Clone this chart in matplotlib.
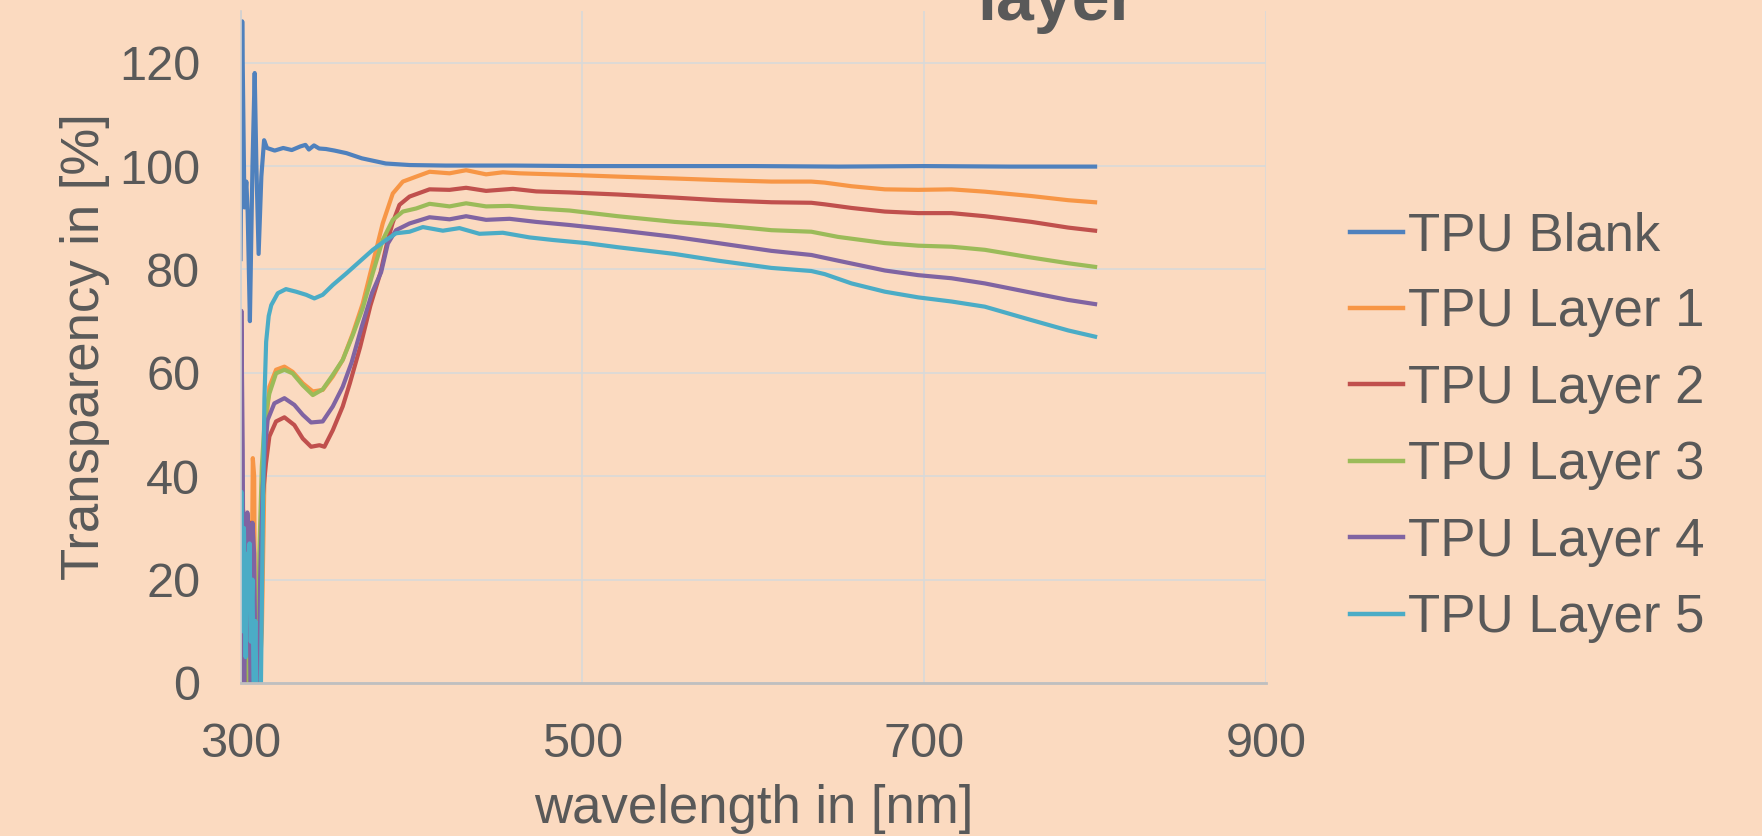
import matplotlib
matplotlib.use('Agg')
import matplotlib.pyplot as plt

plt.rcParams['font.family'] = ['Liberation Sans', 'DejaVu Sans']

BG = '#FBDAC0'
TXT = '#595959'

series_names = ['TPU Blank', 'TPU Layer 1', 'TPU Layer 2', 'TPU Layer 3', 'TPU Layer 4', 'TPU Layer 5']
colors = ['#4F81BD', '#F79646', '#C0504D', '#9BBB59', '#8064A2', '#4BACC6']

x_ticks = [300, 500, 700, 900]
y_ticks = [0, 20, 40, 60, 80, 100, 120]

# values (wavelength nm, transparency %)
wl_blank = [300, 301, 302.3, 303.4, 304.2, 305.5, 307, 308.3, 309.3, 310.6, 312.2, 313.8,
            315.5, 320, 325, 330, 335, 338, 340, 343, 346, 350, 355, 362, 371, 385, 399,
            420, 460, 500, 550, 600, 650, 700, 750, 800]
t_blank = [82, 128, 92, 97, 91, 70, 100, 118, 100, 83, 98, 105,
           103.5, 103.0, 103.5, 103.1, 103.8, 104.1, 103.2, 104.0, 103.4, 103.3, 103.0, 102.5, 101.5, 100.5, 100.2,
           100.1, 100.1, 100.0, 100.0, 100.0, 99.9, 100.0, 99.9, 99.9]

wl_l1 = [300, 302, 303, 304, 306, 307.2, 308, 308.7, 310, 312.5, 314, 315.5, 316.9, 320.8, 325.7,
         330.5, 336.4, 342.3, 348.1, 354, 359.8, 365.7, 371.5, 377.4, 383.2, 389.1, 395, 402.8,
         410.6, 422.3, 432, 443.7, 453.5, 463.3, 492.5, 520.8, 554, 579.4, 610.6, 634, 641.8,
         657.5, 677, 696.5, 716, 735.5, 762.8, 784.3, 800]
t_l1 = [-5, -5, 15, -5, -5, 43.5, 40, -5, -5, 10, 40, 52, 57.3, 60.6, 61.2,
        60.2, 58.0, 56.4, 56.7, 59.3, 62.5, 67.6, 73.4, 81.2, 88.9, 94.7, 97.0, 97.96,
        98.9, 98.6, 99.2, 98.4, 98.8, 98.6, 98.3, 97.96, 97.6, 97.3, 97.0, 97.0, 96.8,
        96.1, 95.5, 95.4, 95.5, 95.05, 94.2, 93.4, 93.0]

wl_l2 = [300, 300.8, 301.5, 302.3, 303, 304, 305, 306, 307, 308, 309, 310.5, 311.5, 313, 314.9,
         316.9, 320.8, 325.7, 331.5, 336.4, 341.3, 346.2, 349.1, 354, 359.8, 364, 370, 376, 382,
         386, 389, 393, 398.9, 410.6, 422.3, 432, 443.7, 459.4, 473, 492.5, 520.8, 554, 579.4,
         610.6, 634, 641.8, 657.5, 677, 696.5, 716, 735.5, 762.8, 784.3, 800]
t_l2 = [33, 31, 33.5, -5, 30, 32.5, -5, 31, 28, -5, -5, 10, 25, 36, 42.5,
        47.7, 50.6, 51.4, 49.9, 47.3, 45.7, 46.0, 45.7, 48.9, 53.5, 58, 65, 73, 79.5,
        85.5, 89, 92.5, 94.1, 95.5, 95.4, 95.8, 95.2, 95.6, 95.1, 94.9, 94.5, 93.9, 93.4,
        93.0, 92.9, 92.6, 91.9, 91.2, 90.9, 90.9, 90.3, 89.2, 88.1, 87.5]

wl_l3 = [300, 300.8, 301.6, 303, 304, 304.8, 306, 307.5, 308.5, 310, 311, 312.5, 314, 315.5,
         316.9, 320.8, 325.7, 330.5, 336.4, 342.3, 348.1, 354, 359.8, 365.7, 371.5, 377.4,
         383.2, 389.1, 395, 402.8, 410.6, 422.3, 432, 443.7, 457.4, 473, 492.5, 520.8, 554,
         579.4, 610.6, 634, 649.6, 677, 696.5, 716, 735.5, 762.8, 784.3, 800]
t_l3 = [-5, 20, -5, 15, 32, -5, -5, 20, -5, -5, 25, 42, 50, 53.5,
        56.0, 59.9, 60.6, 59.9, 57.6, 55.7, 56.8, 59.6, 62.5, 67.3, 72.5, 79.3,
        85.7, 89.6, 91.2, 91.8, 92.7, 92.2, 92.8, 92.2, 92.3, 91.8, 91.4, 90.3, 89.2,
        88.6, 87.6, 87.3, 86.3, 85.1, 84.6, 84.4, 83.8, 82.3, 81.2, 80.5]

wl_l4 = [300, 300.5, 301.3, 302, 303, 304, 305, 306, 307, 308, 309, 310.5, 311.5, 313, 314.5,
         315.9, 319.8, 325.7, 331.5, 336.4, 341.3, 348.1, 354, 359.8, 365, 371, 377, 382.3,
         386.2, 391, 398.9, 410.6, 422.3, 432, 443.7, 457.4, 473, 492.5, 520.8, 554, 579.4,
         610.6, 634, 649.6, 677, 696.5, 716, 735.5, 762.8, 784.3, 800]
t_l4 = [37, 72, 45, -5, 20, 33, 28, -5, 31, 25, -5, -5, 20, 38, 46,
        50.9, 54.1, 55.1, 53.8, 51.9, 50.4, 50.6, 53.5, 57.3, 62, 69, 75.5, 79.5,
        85, 87.6, 88.9, 90.1, 89.7, 90.3, 89.6, 89.8, 89.2, 88.6, 87.6, 86.3, 85.1,
        83.6, 82.8, 81.7, 79.8, 78.9, 78.3, 77.3, 75.5, 74.1, 73.3]

wl_l5 = [300, 300.5, 301.2, 302, 303, 303.8, 304.5, 305.3, 306, 307, 307.8, 308.7, 309.5, 311.8,
         313, 314, 315, 316.5, 318, 321.8, 326.6, 332.5, 338.4, 343.2, 348.1, 354, 361.8,
         369.6, 377.4, 385.2, 391, 398.9, 406.7, 418.4, 428.1, 439.8, 453.5, 469.1, 482.8,
         502.3, 520.8, 554, 579.4, 610.6, 634, 641.8, 657.5, 677, 696.5, 716, 735.5, 762.8,
         784.3, 800]
t_l5 = [15, 37, 10, 30, 5, 25, 15, 27, 8, 20, -5, 12, -5, -5,
        30, 55, 66, 71, 73.1, 75.4, 76.2, 75.7, 75.1, 74.4, 75.1, 77.0, 79.2,
        81.5, 83.8, 85.7, 87.0, 87.3, 88.2, 87.5, 88.0, 86.9, 87.1, 86.2, 85.7,
        85.1, 84.3, 83.0, 81.7, 80.3, 79.7, 79.1, 77.3, 75.7, 74.6, 73.8, 72.8, 70.2,
        68.2, 67.0]

wls = [wl_blank, wl_l1, wl_l2, wl_l3, wl_l4, wl_l5]
vals = [t_blank, t_l1, t_l2, t_l3, t_l4, t_l5]

W, H = 1762, 836
fig = plt.figure(figsize=(W / 100, H / 100), dpi=100, facecolor=BG)
ax = fig.add_axes([240.5 / W, 1 - 683 / H, (1266 - 240.5) / W, (683 - 11) / H])
ax.set_facecolor(BG)

for wl, v, name, c in zip(wls, vals, series_names, colors):
    ax.plot(wl, v, color=c, lw=3, label=name, solid_joinstyle='round')

ax.set_xlim(300, 900)
ax.set_ylim(0, 130)
ax.set_xticks(x_ticks)
ax.set_yticks(y_ticks)
ax.grid(True, color='#D9D9D9', lw=1.2)
ax.set_axisbelow(True)
ax.tick_params(length=0, labelsize=35, labelcolor=TXT)
ax.tick_params(axis='x', pad=28)
ax.tick_params(axis='y', pad=29)
for s in ['top', 'right']:
    ax.spines[s].set_visible(False)
ax.spines['left'].set_color('#D0D0D0')
ax.spines['left'].set_linewidth(1.2)
ax.spines['bottom'].set_color('#BFBFBF')
ax.spines['bottom'].set_linewidth(2)

fig.text(85 / W, 1 - 347 / H, 'Transparency in [%]', rotation=90, ha='center', va='center',
         fontsize=38, color=TXT)
fig.text(754 / W, 1 - 823 / H, 'wavelength in [nm]', ha='center', va='baseline',
         fontsize=38, color=TXT)
# title sits mostly above the canvas in the reference, only its last word shows
fig.text(1057 / W, 1 - 20 / H, 'layer', ha='center', va='baseline', fontsize=49,
         fontweight='bold', color=TXT)

leg = ax.legend(loc='center left', bbox_to_anchor=(1350 / W, 1 - 427 / H),
                bbox_transform=fig.transFigure, frameon=False, fontsize=38,
                handlelength=1.0, handletextpad=0.1, labelspacing=0.5,
                borderpad=0, borderaxespad=0)
for t in leg.get_texts():
    t.set_color(TXT)
for h in leg.get_lines():
    h.set_linewidth(3.2)

fig.savefig('out.png', dpi=100, facecolor=BG)
